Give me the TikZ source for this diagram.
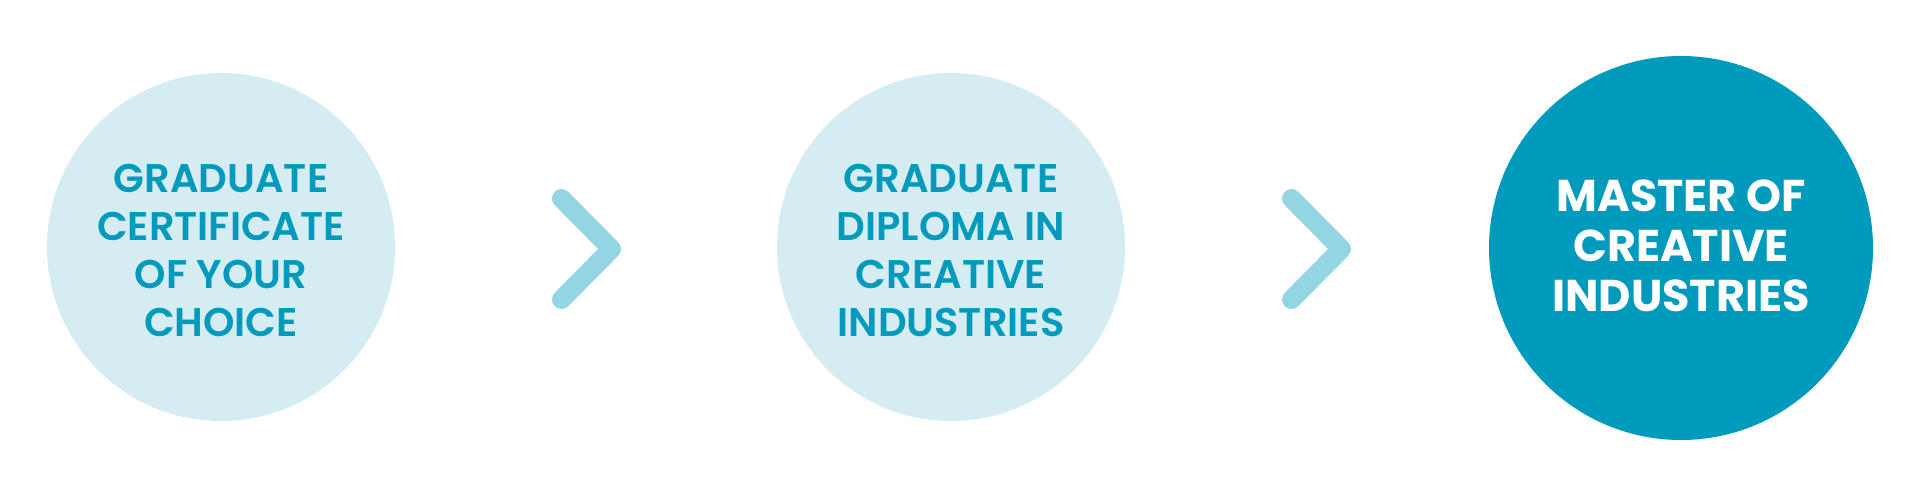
\documentclass[tikz,border=0pt]{standalone}
\usepackage{fontspec}
\newfontfamily\pmed{Poppins SemiBold}
\newfontfamily\psemi{Poppins Bold}
\definecolor{lightfill}{HTML}{D4ECF2}
\definecolor{teal}{HTML}{009BBC}
\definecolor{chevcol}{HTML}{93D5E3}
\tikzset{
  lightcircle/.style={circle, fill=lightfill, minimum size=348pt, inner sep=0pt},
  darkcircle/.style={circle, fill=teal, minimum size=384pt, inner sep=0pt},
  lighttext/.style={align=center, text=teal, font=\pmed\fontsize{40}{48}\selectfont},
  darktext/.style={align=center, text=white, font=\psemi\fontsize{44.5}{50}\selectfont},
  chevron/.style={draw=chevcol, line width=19pt, line cap=round, line join=round},
}
\begin{document}
\begin{tikzpicture}[x=1pt,y=-1pt]
\useasboundingbox (0,0) rectangle (1920,498);
\node[lightcircle] (c1) at (221,247) {};
\node[lightcircle] (c2) at (951,247) {};
\node[darkcircle] (c3) at (1681,248) {};
\node[lighttext] (t1) at (221,250) {GRADUATE\\CERTIFICATE\\OF YOUR\\CHOICE};
\node[lighttext] (t2) at (951,250) {GRADUATE\\DIPLOMA IN\\CREATIVE\\INDUSTRIES};
\node[darktext] (t3) at (1681,246) {MASTER OF\\CREATIVE\\INDUSTRIES};
\coordinate (a1) at (561.5,198.5);
\coordinate (a2) at (611.5,249);
\coordinate (a3) at (561.5,299.5);
\coordinate (b1) at (1291.5,198.5);
\coordinate (b2) at (1341.5,249);
\coordinate (b3) at (1291.5,299.5);
\draw[chevron] (a1) -- (a2) -- (a3);
\draw[chevron] (b1) -- (b2) -- (b3);
\end{tikzpicture}
\end{document}
